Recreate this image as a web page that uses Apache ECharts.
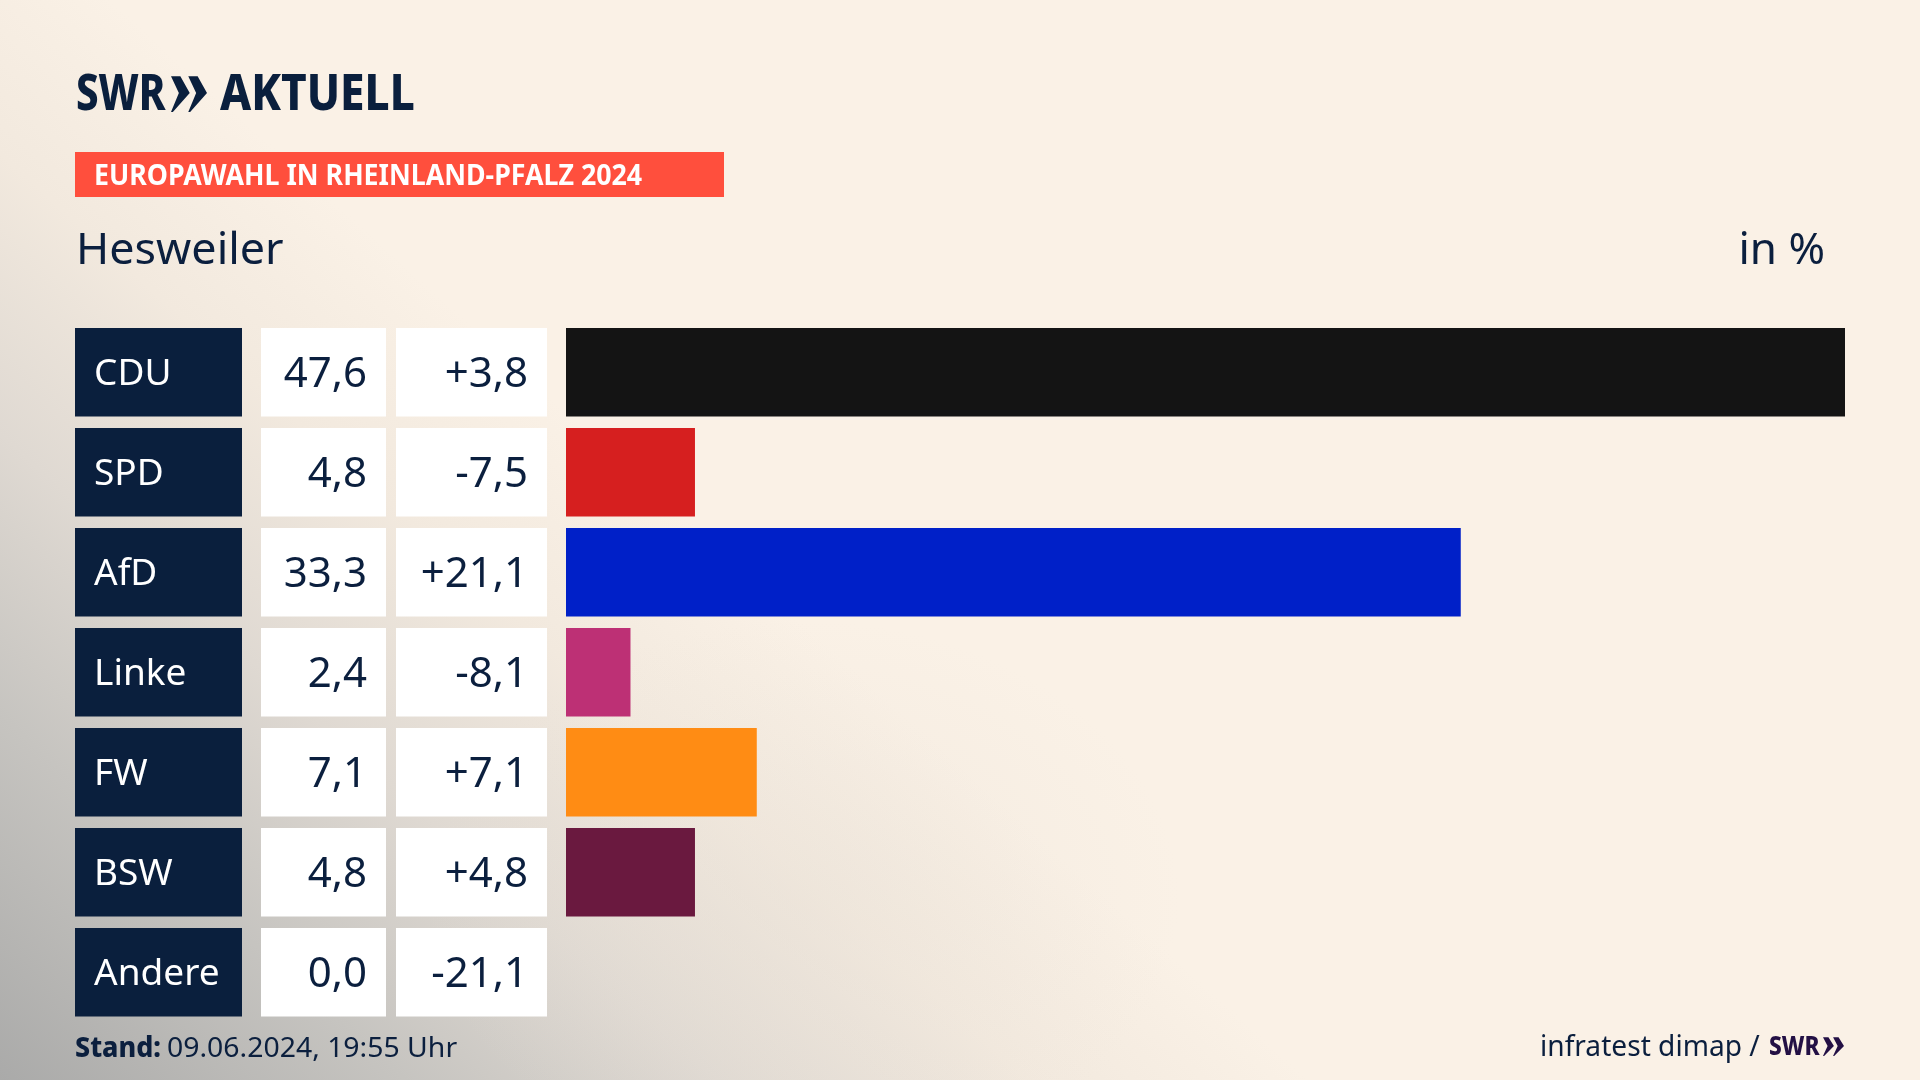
<!DOCTYPE html>
<html><head><meta charset="utf-8">
<style>
html,body{margin:0;padding:0;width:1920px;height:1080px;overflow:hidden;background:#faf1e6}
#bg{position:absolute;left:0;top:0;width:1920px;height:1080px;
background:
 radial-gradient(ellipse 380px 280px at 800px 900px, rgba(232,224,214,.4), rgba(232,224,214,0)),
 linear-gradient(42deg,#aaaaa9 0%,#c6c4c0 13%,#dfd9d2 23%,#f2e9de 33%,#faf1e6 42%,#faf1e6 100%);}
#c{position:absolute;left:0;top:0;width:1920px;height:1080px}
</style>
<script src="https://cdn.jsdelivr.net/npm/echarts@6/dist/echarts.min.js"></script>
</head><body><div id="bg"></div><div id="c"></div>
<script>
const categories=['CDU','SPD','AfD','Linke','FW','BSW','Andere'];
const shares=[47.6,4.8,33.3,2.4,7.1,4.8,0.0];
const changes=[3.8,-7.5,21.1,-8.1,7.1,4.8,-21.1];
const barColors=['#141414','#d61f1f','#0020c8','#bd3075','#ff8c14','#6a193f','#888888'];
const navy='#0a1f3d', ink='#0b1f3e', font='"Noto Sans"';
const fmt=v=>v.toFixed(1).replace('.',',');
const fmtChange=v=>(v>0?'+':'')+fmt(v);
const chart=echarts.init(document.getElementById('c'),null,{renderer:'canvas',width:1920,height:1080});

const gridTop=322.25,gridH=700,barH=88.5;
const grids=[{left:75,width:167},{left:261,width:125},{left:396,width:151},{left:566,width:1279}]
  .map(g=>({...g,top:gridTop,height:gridH}));
const cellAxisMax=[1,1,1,47.6];
const xAxis=grids.map((g,i)=>({gridIndex:i,type:'value',min:0,max:cellAxisMax[i],show:false}));
const yAxis=grids.map((g,i)=>({gridIndex:i,type:'category',data:categories,inverse:true,show:false}));
const cell=(i,color,labelFn,pos,labelColor)=>({
  type:'bar',xAxisIndex:i,yAxisIndex:i,barWidth:barH,silent:true,animation:false,
  data:categories.map(()=>1),itemStyle:{color},
  label:{show:true,position:pos,distance:19,offset:[0,2.5],color:labelColor,fontFamily:font,fontSize:pos==='insideLeft'?37:42,
    formatter:p=>labelFn(p.dataIndex)}
});
const series=[
  cell(0,navy,i=>categories[i],'insideLeft','#ffffff'),
  cell(1,'#ffffff',i=>fmt(shares[i]),'insideRight',ink),
  cell(2,'#ffffff',i=>fmtChange(changes[i]),'insideRight',ink),
  {type:'bar',xAxisIndex:3,yAxisIndex:3,barWidth:barH,silent:true,animation:false,
   data:shares.map((v,i)=>({value:v,itemStyle:{color:barColors[i]}}))}
];
// b = wanted baseline
const txt=(x,b,text,size,weight,color,extra={},sx=1)=>({
  type:'text',x,y:b-0.8*size,scaleX:sx,silent:true,
  style:{text,fontFamily:font,fontSize:size,fontWeight:weight,fill:color,...extra}
});
const chevrons=(x,y,w,h,color)=>{
  const a=w*0.52, out=[];
  [0,w-a].forEach(dx=>{
    const x0=x+dx;
    out.push({type:'polygon',silent:true,shape:{points:[[x0,y+h*0.06],[x0+a*0.5,y+h*0.06],[x0+a,y+h/2],[x0+a*0.1,y+h],[x0,y+h],[x0+a*0.42,y+h/2]]},style:{fill:color}});
  });
  return out;
};
const graphic=[
  {type:'rect',silent:true,shape:{x:75,y:152,width:649,height:45},style:{fill:'#ff4f3d'}},
  txt(76,111,'SWR',49,800,navy,{},0.82),
  ...chevrons(171,74,36,38,navy),
  txt(220,111,'AKTUELL',49,800,navy,{},0.9),
  txt(94,185.5,'EUROPAWAHL IN RHEINLAND-PFALZ 2024',28,700,'#ffffff',{},0.956),
  txt(76,265,'Hesweiler',44,400,ink,{},1.02),
  txt(1825,265,'in %',44,400,ink,{textAlign:'right'}),
  txt(75,1057,'Stand:',28,800,ink,{},0.96),
  txt(167,1057,'09.06.2024, 19:55 Uhr',28,400,ink,{},1.014),
  txt(1540,1056,'infratest dimap /',29,400,ink,{},0.97),
  txt(1769,1055,'SWR',27,800,'#231045',{},0.84),
  ...chevrons(1823,1036,21,20,'#231045')
];
chart.setOption({animation:false,backgroundColor:'transparent',grid:grids,xAxis,yAxis,series,graphic});
</script></body></html>
